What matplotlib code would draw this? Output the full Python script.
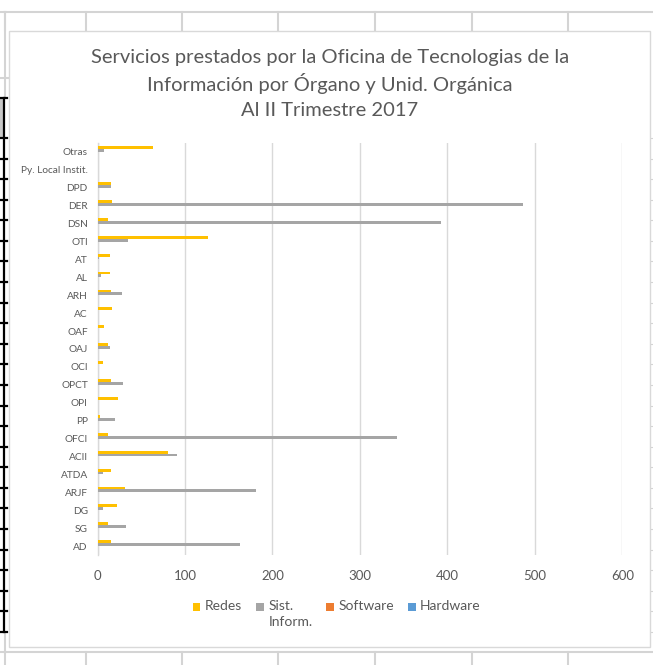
import matplotlib
matplotlib.use("Agg")
import matplotlib.pyplot as plt
import numpy as np
from matplotlib.lines import Line2D
from matplotlib.patches import Rectangle

# ---------------- data ----------------
categories = ["AD", "SG", "DG", "ARJF", "ATDA", "ACII", "OFCI", "PP", "OPI", "OPCT",
              "OCI", "OAJ", "OAF", "AC", "ARH", "AL", "AT", "OTI", "DSN", "DER",
              "DPD", "Py. Local Instit.", "Otras"]
redes    = [15, 12, 22, 31, 15, 81, 12, 3, 23, 15, 6, 12, 8, 17, 15, 14, 14, 126, 12, 17, 16, 0, 64]
sist_inf = [163, 33, 6, 181, 6, 91, 342, 20, 0, 29, 0, 14, 0, 0, 28, 4, 2, 35, 393, 487, 16, 0, 8]
software = [0] * len(categories)
hardware = [0] * len(categories)
series_names = ["Redes", "Sist.\nInform.", "Software", "Hardware"]
series_colors = ["#FFC000", "#A5A5A5", "#ED7D31", "#5B9BD5"]
x_ticks = [0, 100, 200, 300, 400, 500, 600]
title_lines = ["Servicios prestados por la Oficina de Tecnologias de la",
               "Información por Órgano y Unid. Orgánica",
               "Al II Trimestre 2017"]

W, H = 653, 665
fig = plt.figure(figsize=(W / 100, H / 100), dpi=100)
fig.patch.set_facecolor("white")
FONT = ["Lato", "DejaVu Sans"]
TXT = "#595959"

def fx(px):
    return px / W

def fy(py):
    return 1 - py / H

def fline(x0, y0, x1, y1, color="#d4d4d4", lw=1.5, z=0):
    fig.add_artist(Line2D([fx(x0), fx(x1)], [fy(y0), fy(y1)], color=color, lw=lw,
                          transform=fig.transFigure, zorder=z))

# ---- spreadsheet background (decoration) ----
fline(0, 12, W, 12)
fline(0, 652, W, 652)
fline(0, 78, 9, 78)
for xv in [5, 86, 182, 278, 375, 472, 568]:
    fline(xv, 12, xv, 30)
    fline(xv, 652, xv, H)
fline(5, 12, 5, 98)
fline(5, 632, 5, 652)
for yv in np.arange(138, 640, 20.58):
    fline(650, yv, W, yv, lw=0.8)
fig.add_artist(Rectangle((0, fy(138)), fx(4.3), fy(98) - fy(138), transform=fig.transFigure,
                         facecolor="#c8c8c8", edgecolor="none", zorder=1))
fline(4.3, 98, 4.3, 632, color="black", lw=1.6, z=2)
for yv in [98] + list(np.arange(138, 633, 20.58)):
    fline(0, yv, 6.5, yv, color="black", lw=1.6, z=2)

# ---- chart area ----
fig.add_artist(Rectangle((fx(9), fy(647)), fx(650) - fx(9), fy(30.5) - fy(647),
                         transform=fig.transFigure, facecolor="white",
                         edgecolor="#d9d9d9", lw=1.0, zorder=1))

for line, yp in zip(title_lines, [58, 84, 110]):
    fig.text(fx(330), fy(yp), line, ha="center", va="center", fontsize=14.5,
             color=TXT, family=FONT, zorder=3)

# ---- axes ----
ax = fig.add_axes([fx(97.5), fy(555), fx(622.3) - fx(97.5), fy(143) - fy(555)], zorder=3)
ax.set_facecolor("none")
y = np.arange(len(categories))
h = 0.16
all_series = [redes, sist_inf, software, hardware]
offsets = [1.5 * h, 0.5 * h, -0.5 * h, -1.5 * h]
for vals, name, col, off in zip(all_series, series_names, series_colors, offsets):
    ax.barh(y + off, vals, height=h, color=col, label=name, zorder=3)

ax.set_xlim(0, 600)
ax.set_ylim(-0.5, len(categories) - 0.5)
ax.set_xticks(x_ticks)
ax.set_xticklabels([str(v) for v in x_ticks], fontsize=9.5, color=TXT, family=FONT)
ax.set_yticks(y)
ax.set_yticklabels(categories, fontsize=7.3, color=TXT, family=FONT)
ax.tick_params(axis="x", length=0, pad=11)
ax.tick_params(axis="y", length=0, pad=7)
ax.grid(axis="x", color="#d9d9d9", lw=1.0, zorder=0)
for s in ["top", "right", "bottom"]:
    ax.spines[s].set_visible(False)
ax.spines["left"].set_color("#d9d9d9")
ax.spines["left"].set_linewidth(1.0)

# ---- legend (handle aligned with first text line) ----
renderer = fig.canvas.get_renderer()
x_cur = 193.0
y_line = 607.0
sq = 7.5
for name, col in zip(series_names, series_colors):
    fig.add_artist(Rectangle((fx(x_cur), fy(y_line + sq / 2)), fx(sq), fy(y_line - sq / 2) - fy(y_line + sq / 2),
                             transform=fig.transFigure, facecolor=col, edgecolor="none", zorder=3))
    t = fig.text(fx(x_cur + sq + 4.5), fy(y_line - 7.5), name, ha="left", va="top",
                 fontsize=10, color=TXT, family=FONT, linespacing=1.45, zorder=3)
    bb = t.get_window_extent(renderer=renderer)
    x_cur = x_cur + sq + 4.5 + bb.width + 14

fig.savefig("out.png", dpi=100, facecolor="white")
